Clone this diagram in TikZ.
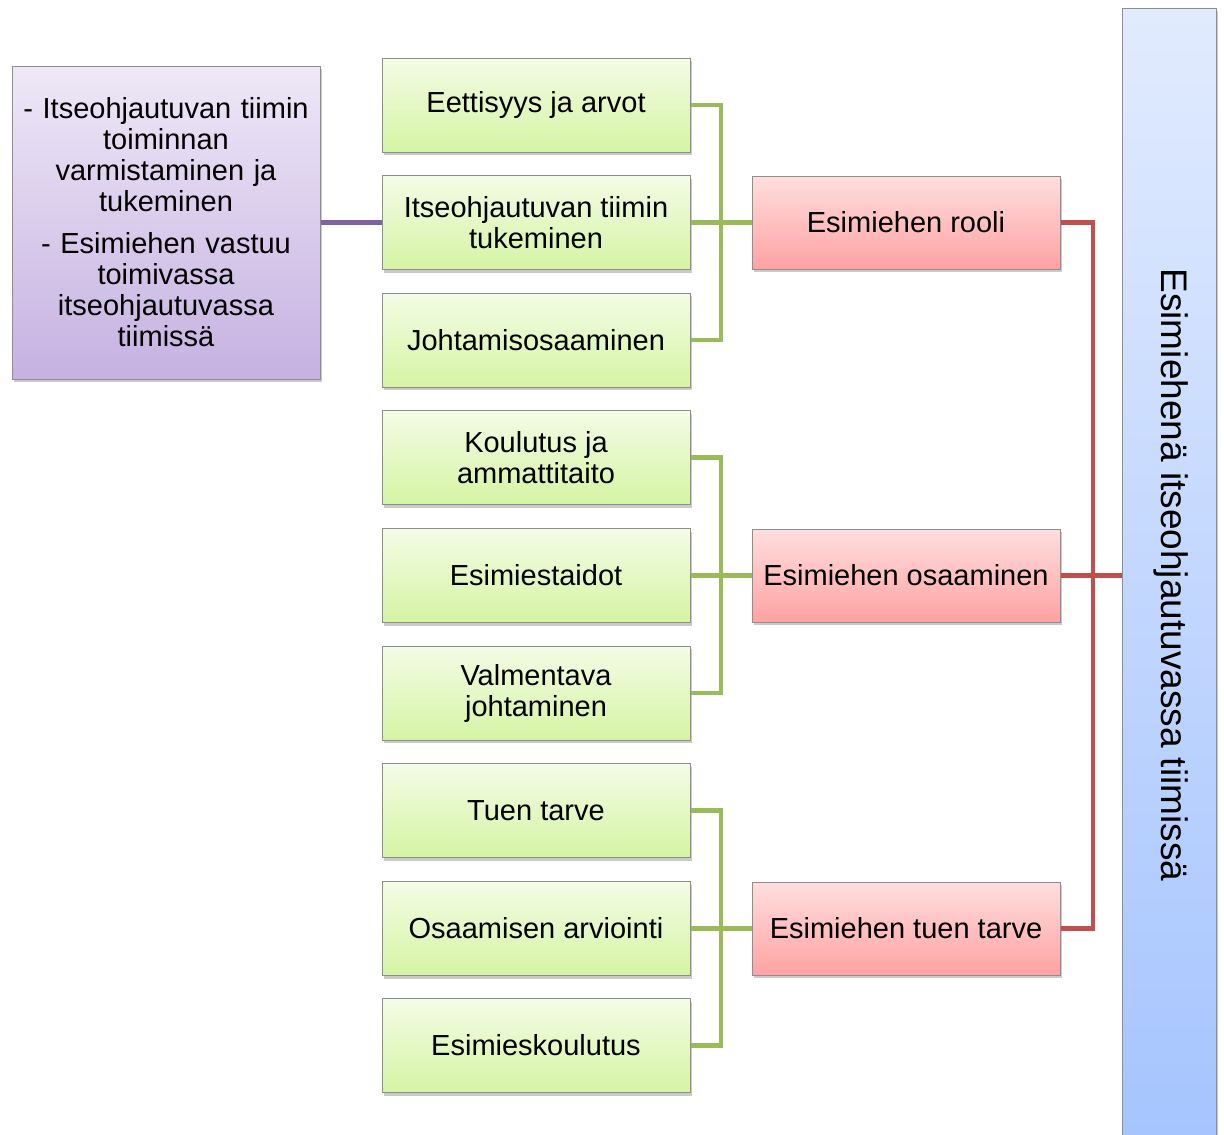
\documentclass[tikz,border=0pt]{standalone}
\usepackage{fontspec}
\setmainfont{Liberation Sans}
\usetikzlibrary{shadows}
\definecolor{gtop}{HTML}{F3FCE6}
\definecolor{gbot}{HTML}{D5F4A3}
\definecolor{rtop}{HTML}{FFDEDE}
\definecolor{rbot}{HTML}{FFA2A2}
\definecolor{ptop}{HTML}{EEE8F7}
\definecolor{pbot}{HTML}{C6B1E1}
\definecolor{btop}{HTML}{E1EBFE}
\definecolor{bbot}{HTML}{A5C4FE}
\definecolor{gline}{HTML}{9BBB59}
\definecolor{rline}{HTML}{C0504D}
\definecolor{pline}{HTML}{8064A2}
\definecolor{edge}{HTML}{8E8E8E}
\tikzset{
  boxbase/.style={draw=edge, line width=1pt, inner sep=0pt, align=center,
    font=\fontsize{29}{31}\selectfont,
    drop shadow={shadow xshift=2pt, shadow yshift=-3pt, opacity=0.35, fill=black!60}},
  gbox/.style={boxbase, minimum width=308pt, minimum height=94pt, top color=gtop, bottom color=gbot},
  rbox/.style={boxbase, minimum width=308pt, minimum height=93pt, top color=rtop, bottom color=rbot},
  pbox/.style={boxbase, minimum width=308pt, minimum height=313pt, text width=300pt, top color=ptop, bottom color=pbot},
  glink/.style={draw=gline, line width=4.3pt},
  rlink/.style={draw=rline, line width=4.3pt},
  plink/.style={draw=pline, line width=4.3pt},
}
\begin{document}
\begin{tikzpicture}[x=1pt,y=-1pt]
\useasboundingbox (0,0) rectangle (1224,1135);
\clip (0,0) rectangle (1224,1135);
% blue bar
\path[draw=edge, line width=1pt, top color=btop, bottom color=bbot,
  drop shadow={shadow xshift=2pt, shadow yshift=-3pt, opacity=0.35, fill=black!60}]
  (1122,8) rectangle (1216,1150);
\node[rotate=-90, font=\fontsize{37}{40}\selectfont] (bar) at (1171,575) {Esimiehenä itseohjautuvassa tiimissä};
\coordinate (barw) at (1122,575.5);
% purple box
\node[pbox] (p) at (166,222.5) {- Itseohjautuvan tiimin\\toiminnan\\varmistaminen ja\\tukeminen\\[11pt]- Esimiehen vastuu\\toimivassa\\itseohjautuvassa\\tiimissä};
% green boxes
\node[gbox] (g1) at (536,105) {Eettisyys ja arvot};
\node[gbox] (g2) at (536,222.5) {Itseohjautuvan tiimin\\tukeminen};
\node[gbox] (g3) at (536,340) {Johtamisosaaminen};
\node[gbox] (g4) at (536,457.5) {Koulutus ja\\ammattitaito};
\node[gbox] (g5) at (536,575.5) {Esimiestaidot};
\node[gbox] (g6) at (536,693) {Valmentava\\johtaminen};
\node[gbox] (g7) at (536,810.5) {Tuen tarve};
\node[gbox] (g8) at (536,928.5) {Osaamisen arviointi};
\node[gbox] (g9) at (536,1045.5) {Esimieskoulutus};
% red boxes
\node[rbox] (r1) at (906,222.5) {Esimiehen rooli};
\node[rbox] (r2) at (906,575.5) {Esimiehen osaaminen};
\node[rbox] (r3) at (906,928.5) {Esimiehen tuen tarve};
% junctions
\coordinate (j1) at (721,222.5);
\coordinate (j2) at (721,575.5);
\coordinate (j3) at (721,928.5);
\coordinate (k) at (1093,575.5);
% connectors
\draw[glink] (g1.east) -| (j1) |- (g3.east);
\draw[glink] (g2.east) -- (r1.west);
\draw[glink] (g4.east) -| (j2) |- (g6.east);
\draw[glink] (g5.east) -- (r2.west);
\draw[glink] (g7.east) -| (j3) |- (g9.east);
\draw[glink] (g8.east) -- (r3.west);
\draw[rlink] (r1.east) -| (k) |- (r3.east);
\draw[rlink] (r2.east) -- (barw);
\draw[plink] (p.east) -- (g2.west);
\end{tikzpicture}
\end{document}
